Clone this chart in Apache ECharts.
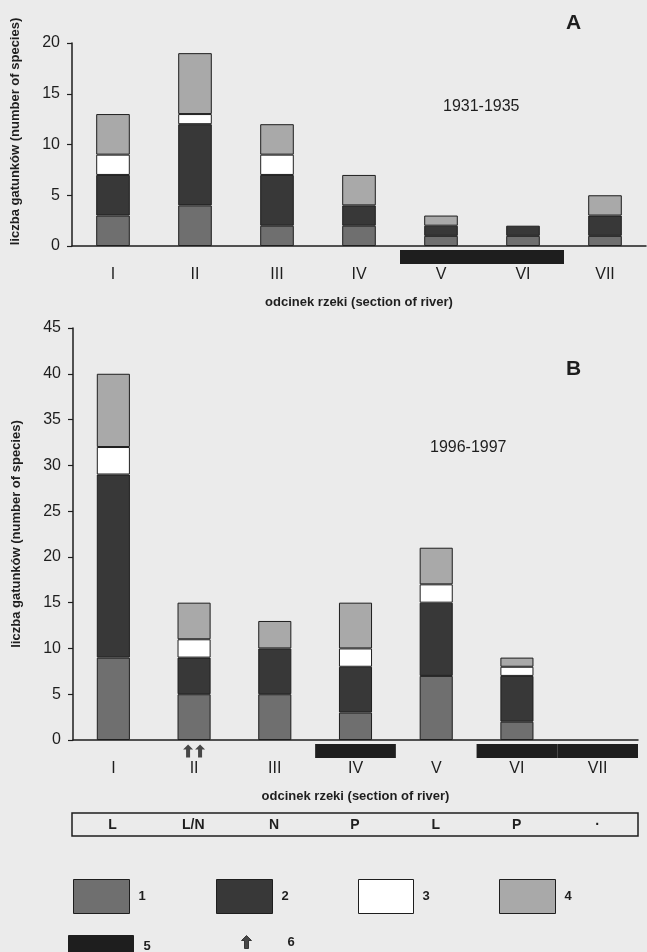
<!DOCTYPE html>
<html>
<head>
<meta charset="utf-8">
<title>liczba gatunków</title>
<script src="https://cdn.jsdelivr.net/npm/echarts@6.0.0/dist/echarts.min.js"></script>
<style>
  html, body { margin: 0; padding: 0; background: #ebebeb; }
  #chart { width: 647px; height: 952px; }
</style>
</head>
<body>
<div id="chart"></div>
<script>
// odcinki rzeki
const sections = ['I', 'II', 'III', 'IV', 'V', 'VI', 'VII']
const tableLabels = ['L', 'L/N', 'N', 'P', 'L', 'P', '·']

// A: 1931-1935
const a1 = [3, 4, 2, 2, 1, 1, 1]
const a2 = [4, 8, 5, 2, 1, 1, 2]
const a3 = [2, 1, 2, 0, 0, 0, 0]
const a4 = [4, 6, 3, 3, 1, 0, 2]
const aBand = [0, 0, 0, 0, 1, 1, 0] // 5

// B: 1996-1997
const b1 = [9, 5, 5, 3, 7, 2, 0]
const b2 = [20, 4, 5, 5, 8, 5, 0]
const b3 = [3, 2, 0, 2, 2, 1, 0]
const b4 = [8, 4, 3, 5, 4, 1, 0]
const bBand = [0, 0, 0, 1, 0, 1, 1] // 5
const bArrows = ['II', 'II'] // 6

const font = '"Liberation Sans", Arial, sans-serif'
const ink = '#1e1e1e'
const colors = ['#6f6f6f', '#383838', '#ffffff', '#a9a9a9']
const arrowPath = 'path://M5,0 L10,5 L7,5 L7,13 L3,13 L3,5 L0,5 Z'

const chart = echarts.init(document.getElementById('chart'))

function renderBand(params, api) {
  if (!api.value(1)) return
  const p = api.coord([api.value(0), 0])
  const w = api.size([1, 0])[0]
  return {
    type: 'rect',
    shape: { x: p[0] - w / 2, y: p[1] + 4, width: w, height: 14 },
    style: { fill: ink }
  }
}

function xAxisFor(gridIndex) {
  return {
    type: 'category',
    gridIndex,
    data: sections,
    axisLine: { lineStyle: { color: ink, width: 1.5 } },
    axisTick: { length: 5, lineStyle: { color: ink, width: 1.2 } },
    axisLabel: { color: ink, fontSize: 16, fontFamily: font, margin: 21 },
    name: 'odcinek rzeki (section of river)',
    nameLocation: 'middle',
    nameGap: 50,
    nameTextStyle: { color: ink, fontSize: 13, fontWeight: 'bold', fontFamily: font }
  }
}

function yAxisFor(gridIndex, max, pad) {
  return {
    type: 'value',
    gridIndex,
    min: 0,
    max,
    interval: 5,
    splitLine: { show: false },
    axisLine: { show: true, lineStyle: { color: ink, width: 1.5 } },
    axisTick: { show: true, length: 5, lineStyle: { color: ink, width: 1.2 } },
    axisLabel: { color: ink, fontSize: 16, fontFamily: font, margin: 12 },
    name: 'liczba gatunków (number of species)',
    nameLocation: 'middle',
    nameGap: 50,
    nameTextStyle: {
      color: ink, fontSize: 13, fontWeight: 'bold', fontFamily: font,
      padding: pad
    }
  }
}

function stackSeries(data, idx, stack) {
  return data.map((vals, i) => ({
    name: String(i + 1),
    type: 'bar',
    stack,
    xAxisIndex: idx,
    yAxisIndex: idx,
    barWidth: '41%',
    itemStyle: { color: colors[i], borderColor: ink, borderWidth: 1 },
    // puste segmenty nie rysują kreski na osi
    data: vals.map(v => (v === 0 ? '-' : v))
  }))
}

function legendAt(name, left, top, w, h, pad, icon) {
  return {
    data: [name],
    left,
    top,
    padding: 0,
    selectedMode: false,
    itemWidth: w,
    itemHeight: h,
    icon: icon || 'rect',
    itemStyle: { borderColor: ink, borderWidth: 1 },
    textStyle: { color: ink, fontSize: 13, fontWeight: 'bold', fontFamily: font, padding: [0, 0, 0, pad] }
  }
}

const option = {
  backgroundColor: '#ebebeb',
  animation: false,
  grid: [
    { left: 72, right: 1, top: 43, bottom: 706 },
    { left: 73, right: 9, top: 328, bottom: 212 },
    // tabelka pod wykresem B
    { left: 72, right: 9, top: 813, height: 23, show: true, borderColor: ink, borderWidth: 1.5 }
  ],
  xAxis: [
    xAxisFor(0),
    xAxisFor(1),
    {
      type: 'category',
      gridIndex: 2,
      data: tableLabels,
      axisLine: { show: false },
      axisTick: { show: false },
      axisLabel: {
        inside: true,
        margin: 4,
        color: ink,
        fontSize: 14,
        fontWeight: 'bold',
        fontFamily: font,
        formatter: (v, i) => tableLabels[i]
      }
    }
  ],
  yAxis: [
    yAxisFor(0, 20, [0, 0, 0, 26]),
    yAxisFor(1, 45, [0, 0, 0, 0]),
    { type: 'value', gridIndex: 2, show: false }
  ],
  legend: [
    legendAt('1', 73, 879, 56, 34, 4),
    legendAt('2', 216, 879, 56, 34, 4),
    legendAt('3', 358, 879, 55, 34, 4),
    legendAt('4', 499, 879, 56, 34, 4),
    legendAt('5', 68, 935, 65, 22, 5),
    legendAt('6', 241, 935, 10, 13, 31, arrowPath)
  ],
  graphic: [
    { type: 'text', left: 566, top: 13, style: { text: 'A', font: 'bold 21px ' + font, fill: ink } },
    { type: 'text', left: 566, top: 359, style: { text: 'B', font: 'bold 21px ' + font, fill: ink } },
    { type: 'text', left: 443, top: 99, style: { text: '1931-1935', font: '16px ' + font, fill: ink } },
    { type: 'text', left: 430, top: 440, style: { text: '1996-1997', font: '16px ' + font, fill: ink } }
  ],
  series: [
    ...stackSeries([a1, a2, a3, a4], 0, 'a'),
    ...stackSeries([b1, b2, b3, b4], 1, 'b'),
    {
      name: '5',
      type: 'custom',
      xAxisIndex: 0,
      yAxisIndex: 0,
      itemStyle: { color: ink },
      renderItem: renderBand,
      encode: { x: 0, y: 1 },
      data: aBand.map((v, i) => [i, v])
    },
    {
      name: '5',
      type: 'custom',
      xAxisIndex: 1,
      yAxisIndex: 1,
      itemStyle: { color: ink },
      renderItem: renderBand,
      encode: { x: 0, y: 1 },
      data: bBand.map((v, i) => [i, v])
    },
    {
      name: '6',
      type: 'scatter',
      xAxisIndex: 1,
      yAxisIndex: 1,
      clip: false,
      symbol: arrowPath,
      symbolSize: [10, 13],
      itemStyle: { color: ink },
      data: bArrows.map((c, i) => ({ value: [c, 0], symbolOffset: [i ? 6 : -6, 11] }))
    }
  ]
}

chart.setOption(option)
</script>
</body>
</html>
